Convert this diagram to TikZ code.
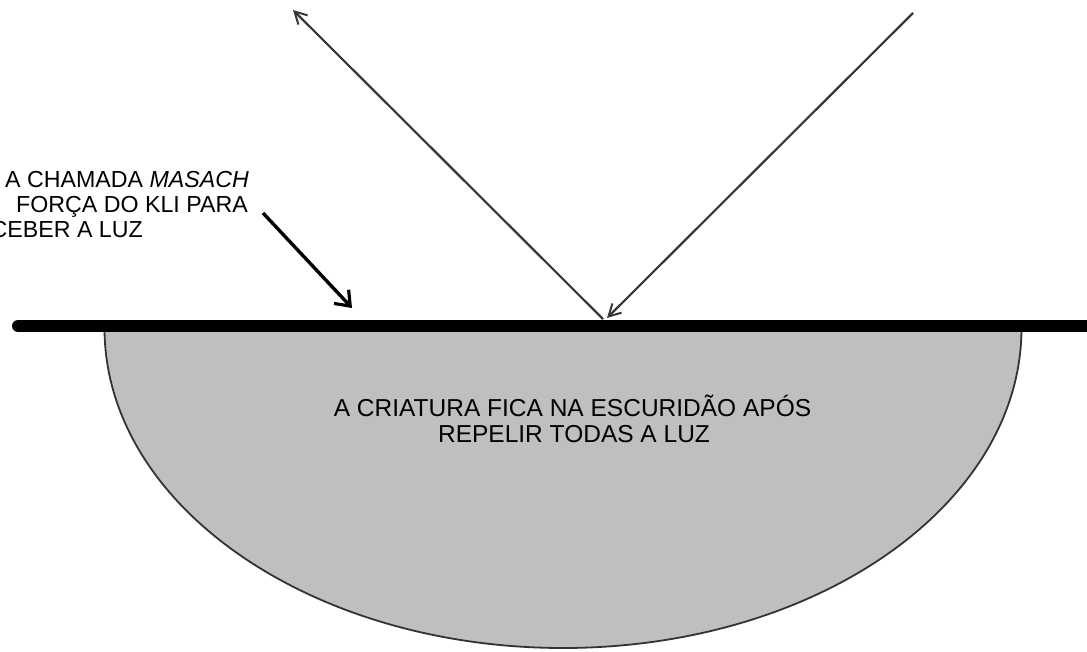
\documentclass[tikz,border=0pt]{standalone}
\usepackage{fontspec}
\setmainfont{Liberation Sans}
\usetikzlibrary{arrows.meta}

\begin{document}
\begin{tikzpicture}[x=1pt, y=-1pt,
    lightray/.style={draw=black!78, line width=2.2pt,
        -{Straight Barb[length=12pt, width=13pt, line width=2pt]}},
    kliarrow/.style={draw=black, line width=3.4pt,
        -{Straight Barb[length=13pt, width=20pt, line width=3.2pt]}},
    leftlabel/.style={anchor=base east, inner sep=0pt,
        font=\fontsize{23.2}{25}\selectfont},
    bowllabel/.style={anchor=base, inner sep=0pt,
        font=\fontsize{24.5}{26}\selectfont}]

    \useasboundingbox (0,0) rectangle (1087,651);

    % the creature (bowl)
    \path[fill=black!25, draw=black!80, line width=1.8pt]
        (104.5,328) arc[start angle=180, end angle=0, x radius=458.5, y radius=320];
    \fill[black!25] (106,326) rectangle (1021,332);

    % the screen (masach)
    \draw[line width=12pt, line cap=round] (18,326) -- (1100,326);

    % light rays
    \coordinate (src) at (913,13);
    \coordinate (hitIn) at (607,318);
    \coordinate (hitOut) at (603,319);
    \coordinate (back) at (293,10);
    \draw[lightray] (src) -- (hitIn);
    \draw[lightray] (hitOut) -- (back);

    % labels
    \node[leftlabel] (L1) at (249,187) {A CHAMADA \textit{MASACH}};
    \node[leftlabel] (L2) at (248,212) {FORÇA DO KLI PARA};
    \node[leftlabel] (L3) at (143,237) {CEBER A LUZ};
    \coordinate (tail) at (263,213);
    \coordinate (tip) at (352,308);
    \draw[kliarrow] (tail) -- (tip);

    \node[bowllabel] (D1) at (572.5,416) {A CRIATURA FICA NA ESCURIDÃO APÓS};
    \node[bowllabel] (D2) at (574,442) {REPELIR TODAS A LUZ};
  \end{tikzpicture}
\end{document}
